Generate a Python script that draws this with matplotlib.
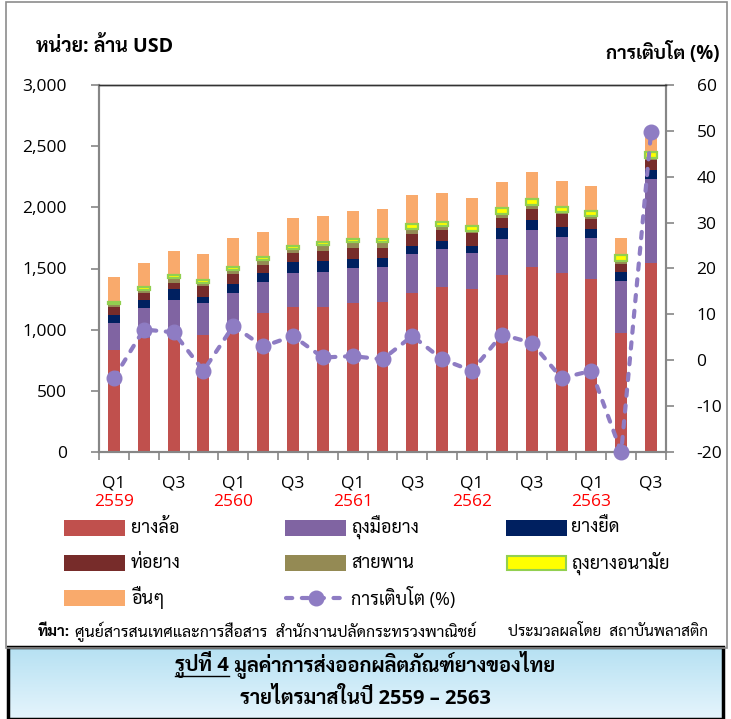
import matplotlib
matplotlib.use("Agg")
import matplotlib.pyplot as plt
import numpy as np
from matplotlib import font_manager as fm
from matplotlib.patches import Rectangle
from matplotlib.lines import Line2D
from matplotlib.ticker import FuncFormatter, MultipleLocator, FixedLocator
import matplotlib.transforms as mtrans

# ---------------- data ----------------
quarters = ["Q1", "Q2", "Q3", "Q4"] * 4 + ["Q1", "Q2", "Q3"]
years = ["2559", "2560", "2561", "2562", "2563"]
tires = [834, 929, 965, 958, 990, 1134, 1188, 1188, 1215, 1229, 1302, 1346, 1330, 1444, 1515, 1461, 1414, 970, 1542]
gloves = [223, 246, 277, 257, 312, 253, 273, 286, 287, 286, 316, 311, 299, 300, 300, 299, 333, 430, 689]
elastic = [60, 68, 88, 54, 69, 74, 95, 87, 73, 73, 68, 70, 57, 85, 81, 82, 73, 74, 74]
hose = [71, 60, 54, 90, 84, 68, 73, 84, 95, 82, 96, 88, 102, 86, 90, 101, 82, 60, 82]
belt = [20, 24, 36, 26, 35, 44, 28, 45, 49, 49, 38, 32, 18, 33, 36, 18, 27, 27, 19]
condom = [22, 22, 24, 22, 24, 22, 26, 26, 22, 22, 40, 30, 40, 45, 45, 45, 45, 50, 45]
others = [203, 193, 199, 209, 233, 206, 232, 216, 231, 245, 241, 238, 228, 211, 224, 212, 200, 136, 134]
growth = [-3.9, 6.7, 6.1, -2.3, 7.5, 3.0, 5.3, 0.6, 0.9, 0.2, 5.3, 0.2, -2.3, 5.6, 3.8, -3.9, -2.3, -20.0, 49.8]

series_names = ["ยางล้อ", "ถุงมือยาง", "ยางยืด", "ท่อยาง", "สายพาน", "ถุงยางอนามัย", "อื่นๆ"]
growth_name = "การเติบโต (%)"

# ---------------- fonts ----------------
available = {f.name for f in fm.fontManager.ttflist}
thai = "Loma"
for cand in ["Sarabun", "Noto Sans Thai Looped", "Noto Sans Thai", "Loma"]:
    if cand in available:
        thai = cand
        break

def has_bold(fam):
    for f in fm.fontManager.ttflist:
        if f.name == fam and f.weight in (700, "bold") and f.style == "normal":
            return True
    return False

latin = "DejaVu Sans"
for cand in ["Open Sans", "Liberation Sans", "Roboto", "Lato"]:
    if cand in available and has_bold(cand):
        latin = cand
        break
plt.rcParams["font.family"] = [latin, thai, "DejaVu Sans"]

W, H = 731, 719
fig = plt.figure(figsize=(W / 100, H / 100), dpi=100)

def fx(x):
    return x / W

def fy(y):
    return 1 - y / H

# outer frame
fig.add_artist(Rectangle((fx(6), fy(648)), fx(727) - fx(6), fy(2) - fy(648),
                         transform=fig.transFigure, fill=False, ec="#8c8c8c", lw=1.2))

# ---------------- axes ----------------
L, R, T, B = 99, 666, 85, 452
ax = fig.add_axes([fx(L), fy(B), fx(R) - fx(L), fy(T) - fy(B)])
ax2 = ax.twinx()

x = np.arange(len(tires))
colors = ["#C0504D", "#8064A2", "#002060", "#772C2A", "#948A54", "#FFFF00", "#F9AA6C"]
stack = [tires, gloves, elastic, hose, belt, condom, others]
bottom = np.zeros(len(x))
bw = 0.40
for vals, c, name in zip(stack, colors, series_names):
    if c == "#FFFF00":
        ax.bar(x, vals, bw, bottom=bottom, color=c, edgecolor="#92D050", linewidth=1.6, zorder=3)
    else:
        ax.bar(x, vals, bw, bottom=bottom, color=c, edgecolor="none", zorder=2)
    bottom = bottom + np.array(vals)

gcol = "#8E7CC3"
ax2.plot(x, growth, color=gcol, lw=3.0, dashes=(1.5, 2.3), dash_capstyle="round",
         marker="o", markersize=10.5, markerfacecolor=gcol, markeredgecolor=gcol, zorder=5,
         clip_on=False)

ax.set_xlim(-0.5, len(x) - 0.5)
ax.set_ylim(0, 3000)
ax2.set_ylim(-20, 60)
ax.yaxis.set_major_locator(MultipleLocator(500))
ax.yaxis.set_major_formatter(FuncFormatter(lambda v, p: f"{int(v):,}"))
ax2.yaxis.set_major_locator(MultipleLocator(10))
ax2.yaxis.set_major_formatter(FuncFormatter(lambda v, p: f"{int(v)}"))

lab_pos = [i for i in x if quarters[i] in ("Q1", "Q3")]
ax.set_xticks(lab_pos)
ax.set_xticklabels([quarters[i] for i in lab_pos])
ax.xaxis.set_minor_locator(FixedLocator(np.arange(-0.5, len(x), 1.0)))
ax.xaxis.set_minor_formatter(FuncFormatter(lambda v, p: ""))
ax.tick_params(axis="x", which="major", length=0, pad=17, labelsize=12.5, colors="black")
ax.tick_params(axis="x", which="minor", length=6, width=1.2, color="#868686", direction="out")
ax.tick_params(axis="y", length=6, width=1.2, color="#868686", direction="out", pad=17, labelsize=12.5)
ax2.tick_params(axis="y", length=6, width=1.2, color="#868686", direction="out", pad=16, labelsize=12.5)

for axx in (ax, ax2):
    for s in ("left", "right", "bottom"):
        axx.spines[s].set_color("#868686")
        axx.spines[s].set_linewidth(1.5)
    axx.spines["top"].set_color("#333333")
    axx.spines["top"].set_linewidth(1.0)

q1_pos = [i for i in x if quarters[i] == "Q1"]
trans = mtrans.blended_transform_factory(ax.transData, fig.transFigure)
for i, yr in zip(q1_pos, years):
    ax.text(i, fy(502), yr, transform=trans, ha="center", va="center", color="red", fontsize=12.5)

# axis titles
fig.text(fx(36), fy(47), "หน่วย: ล้าน USD", ha="left", va="center", fontsize=14, fontweight="bold")
fig.text(fx(719), fy(53), growth_name, ha="right", va="center", fontsize=13.5, fontweight="bold")

# ---------------- legend ----------------
col_patch = [64, 285, 506]
col_text = [131, 351, 571]
rows = [527.5, 563, 597.5]
order = [(0, 0), (0, 1), (0, 2), (1, 0), (1, 1), (1, 2), (2, 0)]
for (r, c), name, colr in zip(order, series_names, colors):
    y0 = rows[r]
    if colr == "#FFFF00":
        fig.add_artist(Rectangle((fx(col_patch[c] + 1), fy(y0 + 7)), fx(59), fy(0) - fy(14),
                                 transform=fig.transFigure, fc=colr, ec="#92D050", lw=1.5))
    else:
        fig.add_artist(Rectangle((fx(col_patch[c]), fy(y0 + 8)), fx(61), fy(0) - fy(16),
                                 transform=fig.transFigure, fc=colr, ec="none"))
    fig.text(fx(col_text[c]), fy(y0), name, ha="left", va="center", fontsize=13)
y0 = rows[2]
fig.add_artist(Line2D([fx(286), fx(345)], [fy(y0), fy(y0)], transform=fig.transFigure,
                      color=gcol, lw=3.0, dashes=(1.5, 2.3), dash_capstyle="round"))
fig.add_artist(Line2D([fx(315.5)], [fy(y0)], transform=fig.transFigure, color=gcol,
                      marker="o", markersize=10.5, lw=0))
fig.text(fx(col_text[1]), fy(y0), growth_name, ha="left", va="center", fontsize=13)

# source line
fig.text(fx(38), fy(632), "ที่มา:", ha="left", va="center", fontsize=11, fontweight="bold")
fig.text(fx(75), fy(632), "ศูนย์สารสนเทศและการสื่อสาร  สำนักงานปลัดกระทรวงพาณิชย์",
         ha="left", va="center", fontsize=11.5)
fig.text(fx(708), fy(632), "ประมวลผลโดย  สถาบันพลาสติก", ha="right", va="center", fontsize=11)

# ---------------- caption box ----------------
cap = fig.add_axes([fx(8), 0, fx(723) - fx(8), fy(647)])
cap.set_axis_off()
grad = np.linspace(0, 1, 100).reshape(-1, 1)
c_top = np.array([0.71, 0.88, 0.95])
c_bot = np.array([0.90, 0.96, 0.99])
img = c_top[None, None, :] * (1 - grad[:, :, None]) + c_bot[None, None, :] * grad[:, :, None]
cap.imshow(img, aspect="auto", extent=[0, 1, 0, 1], origin="upper")
cap.set_xlim(0, 1)
cap.set_ylim(0, 1)
cap.add_patch(Rectangle((0, 0), 1, 1, transform=cap.transAxes, fill=False, ec="black", lw=2.5, clip_on=False))

fs_cap = 14.5
t1 = fig.text(0, fy(665), "รูปที่ 4", ha="left", va="center", fontsize=fs_cap, fontweight="bold")
t2 = fig.text(0, fy(665), " มูลค่าการส่งออกผลิตภัณฑ์ยางของไทย", ha="left", va="center",
              fontsize=fs_cap, fontweight="bold")
fig.text(fx(365), fy(698), "รายไตรมาสในปี 2559 – 2563", ha="center", va="center",
         fontsize=fs_cap, fontweight="bold")
fig.canvas.draw()
r = fig.canvas.get_renderer()
w1 = t1.get_window_extent(r).width
w2 = t2.get_window_extent(r).width
start = 365 - (w1 + w2) / 2
t1.set_x(fx(start))
t2.set_x(fx(start + w1))
fig.add_artist(Line2D([fx(start), fx(start + w1)], [fy(676), fy(676)], transform=fig.transFigure,
                      color="black", lw=1.0))

fig.savefig("out.png", dpi=100)
